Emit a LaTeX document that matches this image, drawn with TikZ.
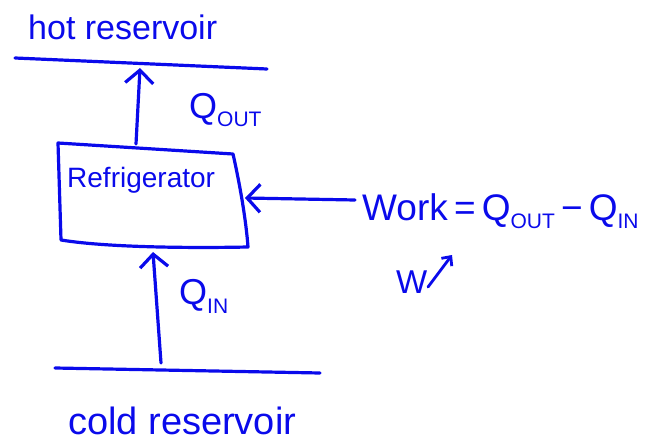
\documentclass[tikz,border=0pt]{standalone}
\usepackage{fontspec}
\setmainfont{Liberation Sans}
\usetikzlibrary{arrows.meta}
\definecolor{ink}{RGB}{10,10,235}
% lowered small-caps style subscript: #1 = drop, #2 = size, #3 = text
\newcommand\lowsub[3]{\raisebox{-#1}{\fontsize{#2}{#2}\selectfont #3}}
\begin{document}
\begin{tikzpicture}[x=1pt,y=-1pt,
  pen/.style={draw=ink, line width=3.2pt, line cap=round, line join=round},
  arr/.style={pen, -{Straight Barb[length=13pt,width=28pt,line width=3.2pt]}},
  smallarr/.style={pen, line width=2.8pt, -{Straight Barb[length=7pt,width=13pt,line width=2.8pt]}},
  lbl/.style={text=ink, inner sep=0pt, anchor=base west}]
\useasboundingbox (0,0) rectangle (652,446);

% reservoirs
\coordinate (hotL) at (15,58);
\coordinate (hotR) at (267,69);
\coordinate (coldL) at (55,368);
\coordinate (coldR) at (320,373);
\draw[pen] (hotL) -- (hotR);
\draw[pen] (coldL) -- (coldR);
\node[lbl, font=\fontsize{34}{34}\selectfont] (hot) at (28,40) {hot reservoir};
\node[lbl, font=\fontsize{38}{38}\selectfont] (cold) at (68,434) {cold reservoir};

% refrigerator box
\coordinate (tl) at (58,143);
\coordinate (tr) at (233,154);
\coordinate (br) at (248,247);
\coordinate (bl) at (61,240);
\draw[pen] (tl) -- (tr) .. controls (240,185) and (246,220) .. (br)
  .. controls (200,248) and (110,248) .. (bl) -- cycle;
\node[lbl, font=\fontsize{28}{28}\selectfont] (fridge) at (67,188) {Refrigerator};

% heat flows
\coordinate (outS) at (136,144);
\coordinate (outE) at (140,68);
\draw[arr] (outS) -- (outE);
\coordinate (inS) at (161,363);
\coordinate (inE) at (153,252);
\draw[arr] (inS) -- (inE);
\node[lbl, font=\fontsize{36}{36}\selectfont] (qout) at (189,119)
  {Q\lowsub{8pt}{21}{OUT}};
\node[lbl, font=\fontsize{36}{36}\selectfont] (qin) at (179,304)
  {Q\lowsub{9pt}{21}{IN}};

% work input
\coordinate (wS) at (355,200);
\coordinate (wE) at (245,198);
\draw[arr] (wS) -- (wE);
\node[lbl, font=\fontsize{37}{37}\selectfont] (eq) at (362,220)
  {Work\,=\,Q\lowsub{9pt}{21}{OUT}\,\textminus\,Q\lowsub{9pt}{21}{IN}};

\node[lbl, font=\fontsize{33}{33}\selectfont] (wsym) at (396,293) {W};
\coordinate (wa1) at (428,287);
\coordinate (wa2) at (452,255);
\draw[smallarr] (wa1) -- (wa2);
\end{tikzpicture}
\end{document}
